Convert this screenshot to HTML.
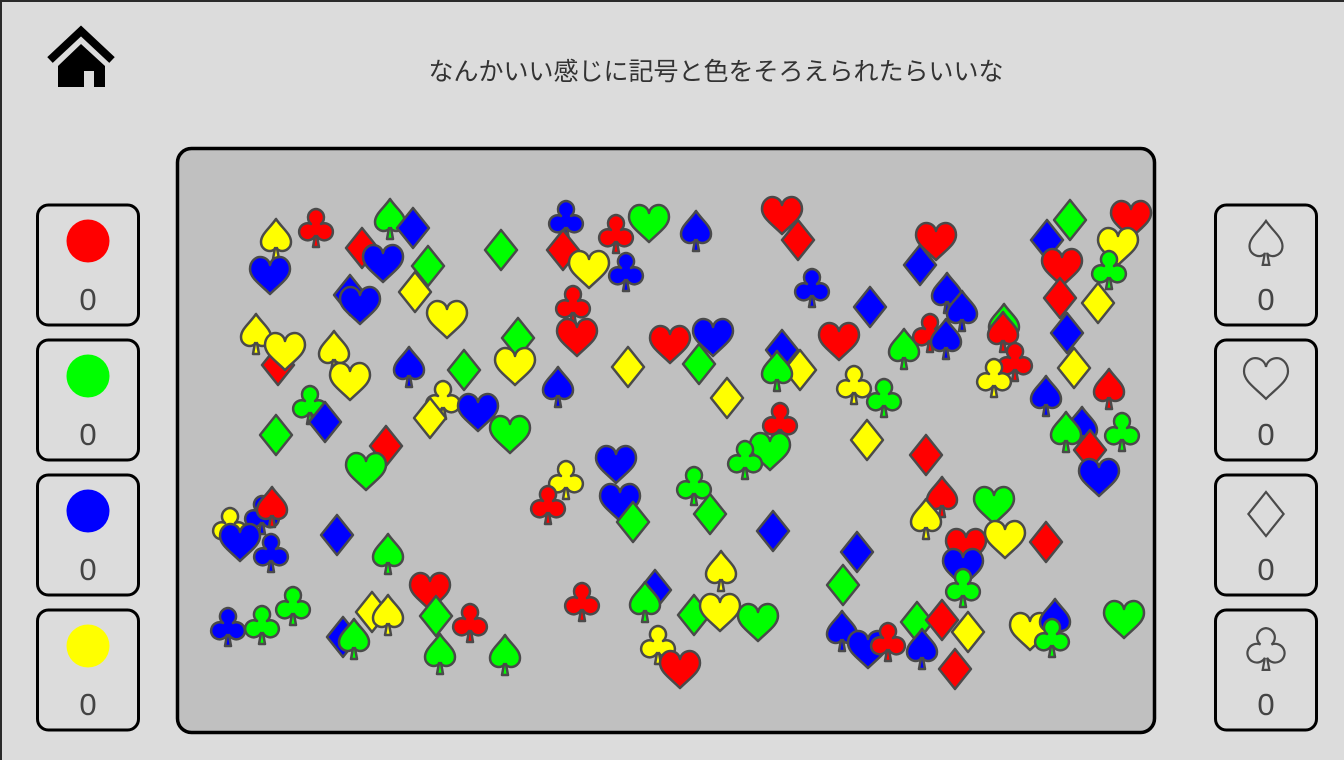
<!DOCTYPE html>
<html><head><meta charset="utf-8">
<style>
html,body{margin:0;padding:0}
body{width:1344px;height:760px;background:#dcdcdc;position:relative;overflow:hidden;font-family:"Liberation Sans","Noto Sans CJK JP",sans-serif}
#frame{position:absolute;left:0;top:0;width:1344px;height:760px;box-sizing:border-box;border-top:2px solid #2a2a2a;border-left:2px solid #2a2a2a}
.title{position:absolute;left:0;width:1432px;top:52px;text-align:center;font-size:25px;color:#333}
svg{position:absolute;left:0;top:0}
</style></head>
<body>
<div id="frame"></div>
<div class="title">なんかいい感じに記号と色をそろえられたらいいな</div>
<svg id="s" width="1344" height="760">
  <g>
    <polyline points="50,60 81,31 112,60" fill="none" stroke="#000" stroke-width="8"/>
    <path d="M58,66 L81,44 L105,66 L105,87 L94,87 L94,71 L84,71 L84,87 L58,87Z" fill="#000"/>
  </g>
  <rect x="177.5" y="148.5" width="977" height="584" rx="14" fill="#c0c0c0" stroke="#000" stroke-width="3.5"/>
  <g id="marks"></g>
  <g id="panels"></g>
</svg>
<script>
const xs=[276,316,270,362,390,413,383,428,415,350,
360,447,501,566,563,616,649,696,589,626,
573,577,518,515,782,798,812,870,936,920,
947,962,930,946,1047,1070,1131,1118,1062,1109,
1060,1098,1004,1003,1015,1067,1074,994,1046,1109,
1082,1066,1090,1122,1099,256,278,285,334,350,
409,464,443,430,478,510,310,325,276,386,
366,558,628,670,713,699,782,800,777,727,
839,904,854,884,780,770,745,867,926,942,
926,994,1005,1046,966,963,963,616,620,633,
566,548,694,710,773,857,721,843,230,262,
272,240,271,337,388,430,436,470,228,262,
293,343,354,372,388,440,505,582,655,645,
694,720,758,658,680,842,868,888,917,942,
922,968,955,1030,1055,1052,1124];
const ys=[240,228,276,248,220,228,264,266,292,295,
306,320,250,220,250,234,224,232,270,272,
305,338,338,367,216,240,288,307,242,265,
294,312,333,340,240,220,220,247,268,270,
298,303,325,333,362,333,368,378,397,390,
428,433,450,432,478,335,365,352,352,382,
368,370,400,418,413,435,405,422,435,446,
472,388,367,345,338,364,350,370,372,398,
342,350,385,398,422,452,460,440,455,498,
520,506,540,542,548,568,588,465,503,522,
480,505,486,514,531,552,572,585,527,515,
508,543,553,535,555,592,616,623,627,625,
606,637,640,612,616,655,656,602,590,603,
615,613,623,645,670,632,650,642,622,620,
650,632,669,632,620,638,620];
const types=["S","C","H","D","S","D","H","D","D","D",
"H","H","D","C","D","C","H","S","H","C",
"C","H","D","H","H","D","C","D","H","D",
"S","S","C","S","D","D","H","H","H","C",
"D","D","S","S","C","D","D","C","S","S",
"S","S","D","C","H","S","D","H","S","H",
"S","D","C","D","H","H","C","D","D","D",
"H","S","D","H","H","D","D","D","S","D",
"H","S","C","C","C","H","C","D","D","S",
"S","H","H","D","H","H","C","H","H","D",
"C","C","C","D","D","D","S","D","C","C",
"S","H","C","D","S","H","D","C","C","C",
"C","D","S","D","S","S","S","C","D","S",
"D","H","H","C","H","S","H","C","D","D",
"S","D","D","H","S","C","H"];
const colors=["y","r","b","r","g","b","b","g","y","b",
"b","y","g","b","r","r","g","b","y","b",
"r","r","g","y","r","r","b","b","r","b",
"b","b","r","b","b","g","r","y","r","g",
"r","y","g","r","r","b","y","y","b","r",
"b","g","r","g","b","y","r","y","y","y",
"b","g","y","y","b","g","g","b","g","r",
"g","b","y","r","b","g","b","y","g","y",
"r","g","y","g","r","g","g","y","r","r",
"y","g","y","r","r","b","g","b","b","g",
"y","r","g","g","b","b","y","g","y","b",
"r","b","b","b","g","r","g","r","b","g",
"g","b","g","y","y","g","g","r","b","g",
"g","y","g","y","r","b","b","r","g","r",
"b","y","r","y","b","g","g"];
const palette={r:"#ff0000",g:"#00ff00",b:"#0000ff",y:"#ffff00"};
const paths={
H:"M0,18 C-10,8 -20,2 -20,-7 C-20,-15 -14,-19 -10,-19 C-5,-19 -1,-16 0,-11 C1,-16 5,-19 10,-19 C14,-19 20,-15 20,-7 C20,2 10,8 0,18Z",
D:"M0,-20 L16,0 L0,20 L-16,0Z",
S:"M0,-21 C-6,-12 -15,-6 -15,2 C-15,8 -10,11 -6,11 C-3,11 -1,9 -1,8 L-3,19 L3,19 L1,8 C1,9 3,11 6,11 C10,11 15,8 15,2 C15,-6 6,-12 0,-21Z",
C:"M0,-19 A8.5,8.5 0 0 0 -5,-4 A8.5,8.5 0 1 0 -1,8 L-3,19 L3,19 L1,8 A8.5,8.5 0 1 0 5,-4 A8.5,8.5 0 0 0 0,-19Z"
};
const NS="http://www.w3.org/2000/svg";
const marks=document.getElementById("marks");
const n=Math.min(types.length,colors.length,xs.length,ys.length);
for(let i=0;i<n;i++){
  const p=document.createElementNS(NS,"path");
  p.setAttribute("d",paths[types[i]]);
  p.setAttribute("transform","translate("+xs[i]+","+ys[i]+")");
  p.setAttribute("fill",palette[colors[i]]);
  p.setAttribute("stroke","#4a4a4a");
  p.setAttribute("stroke-width","2.5");
  p.setAttribute("stroke-linejoin","round");
  
  
  marks.appendChild(p);
}
const panels=document.getElementById("panels");
const leftColors=["r","g","b","y"];
const rightTypes=["S","H","D","C"];
const counts=[0,0,0,0];
function box(x,y){
  const r=document.createElementNS(NS,"rect");
  r.setAttribute("x",x);r.setAttribute("y",y);r.setAttribute("width",101);r.setAttribute("height",120);
  r.setAttribute("rx",11);r.setAttribute("fill","#dcdcdc");r.setAttribute("stroke","#000");r.setAttribute("stroke-width",3);
  return r;
}
function txt(x,y,s){
  const t=document.createElementNS(NS,"text");
  t.setAttribute("x",x);t.setAttribute("y",y);t.setAttribute("text-anchor","middle");
  t.setAttribute("font-size","31");t.setAttribute("fill","#444");t.setAttribute("font-family","Liberation Sans, sans-serif");
  t.textContent=s;return t;
}
for(let i=0;i<4;i++){
  const y=205+i*135;
  const g=document.createElementNS(NS,"g");
  
  
  g.appendChild(box(37.5,y));
  const c=document.createElementNS(NS,"circle");
  c.setAttribute("cx",88);c.setAttribute("cy",y+36);c.setAttribute("r",21.5);c.setAttribute("fill",palette[leftColors[i]]);
  g.appendChild(c);
  g.appendChild(txt(88,y+105,String(counts[i])));
  panels.appendChild(g);
  const g2=document.createElementNS(NS,"g");
  
  
  g2.appendChild(box(1215.5,y));
  const p=document.createElementNS(NS,"path");
  p.setAttribute("d",paths[rightTypes[i]]);
  p.setAttribute("transform","translate(1266,"+(y+39)+") scale(1.1)");
  p.setAttribute("fill","none");p.setAttribute("stroke","#4a4a4a");p.setAttribute("stroke-width","2");
  g2.appendChild(p);
  g2.appendChild(txt(1266,y+105,String(counts[i])));
  panels.appendChild(g2);
}
</script>
</body></html>
